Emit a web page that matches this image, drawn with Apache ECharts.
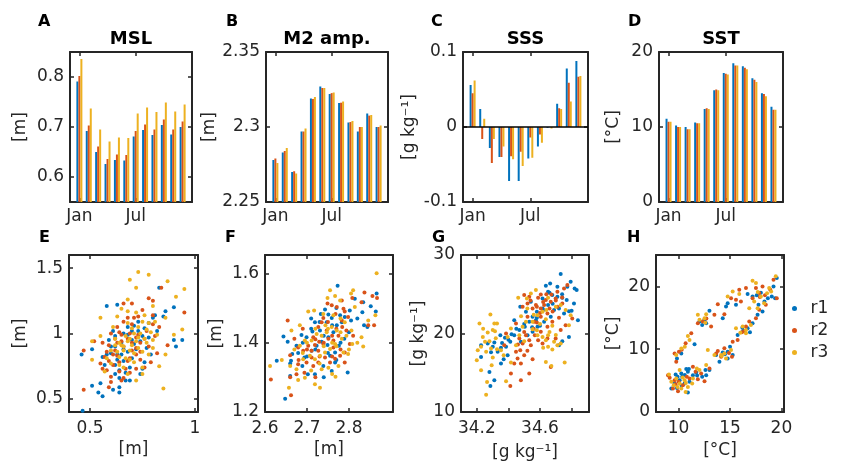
<!DOCTYPE html>
<html>
<head>
<meta charset="utf-8">
<script src="https://cdn.jsdelivr.net/npm/echarts@6/dist/echarts.min.js"></script>
<style>
  html, body { margin: 0; padding: 0; background: #fff; }
  #container { width: 842px; height: 468px; }
</style>
</head>
<body>
<div id="container"></div>
<script>
// monthly climatologies, three runs
var months = [1, 2, 3, 4, 5, 6, 7, 8, 9, 10, 11, 12];
var monthTicks = [1, 7];
var monthLabels = ["Jan", "Jul"];

var mslR1 = [0.791, 0.692, 0.650, 0.626, 0.634, 0.633, 0.681, 0.694, 0.684, 0.704, 0.685, 0.700];
var mslR2 = [0.802, 0.703, 0.661, 0.636, 0.645, 0.644, 0.692, 0.705, 0.695, 0.715, 0.695, 0.711];
var mslR3 = [0.836, 0.737, 0.695, 0.671, 0.679, 0.678, 0.727, 0.739, 0.730, 0.749, 0.731, 0.745];

var m2R1 = [2.278, 2.283, 2.270, 2.297, 2.319, 2.327, 2.322, 2.316, 2.303, 2.297, 2.309, 2.300];
var m2R2 = [2.279, 2.284, 2.2705, 2.297, 2.3187, 2.326, 2.3226, 2.3162, 2.3033, 2.300, 2.3076, 2.300];
var m2R3 = [2.276, 2.286, 2.269, 2.299, 2.320, 2.326, 2.323, 2.317, 2.304, 2.300, 2.308, 2.301];

var sssR1 = [0.056, 0.024, -0.028, -0.040, -0.072, -0.072, -0.042, -0.026, -0.001, 0.031, 0.078, 0.088];
var sssR2 = [0.045, -0.016, -0.048, -0.040, -0.039, -0.033, -0.014, -0.010, 0.000, 0.025, 0.059, 0.067];
var sssR3 = [0.062, 0.011, -0.016, -0.026, -0.043, -0.052, -0.041, -0.021, -0.002, 0.024, 0.034, 0.068];

var sstR1 = [11.1, 10.2, 10.0, 10.6, 12.4, 14.9, 17.2, 18.5, 18.1, 16.5, 14.5, 12.7];
var sstR2 = [10.7, 10.0, 9.7, 10.5, 12.5, 15.0, 17.1, 18.2, 17.9, 16.3, 14.4, 12.3];
var sstR3 = [10.7, 10.0, 9.7, 10.5, 12.4, 14.9, 17.0, 18.2, 17.7, 16.0, 14.1, 12.3];

// scatter panels [x, y]
var eR1 = [[0.46,0.84],[0.51,0.88],[0.465,0.41],[0.58,1.21],[0.63,1.22],[0.56,0.52],[0.51,0.60],[0.55,0.62],[0.61,0.57],[0.64,0.55],[0.64,0.59],[0.67,0.64],[0.69,0.64],[0.74,0.69],[0.75,0.73],[0.83,1.35],[0.90,1.20],[0.86,1.17],[0.90,0.95],[0.94,0.95],[0.91,0.90],[0.81,1.14],[0.78,1.08],[0.73,1.02],[0.68,0.99],[0.65,0.93],[0.62,0.98],[0.60,0.90],[0.58,0.84],[0.57,0.76],[0.62,0.76],[0.64,0.72],[0.66,0.79],[0.68,0.86],[0.71,0.92],[0.74,0.94],[0.77,0.89],[0.79,0.84],[0.76,0.78],[0.70,1.02],[0.73,1.09],[0.80,1.12],[0.85,1.13],[0.61,1.02],[0.76,1.04],[0.68,1.05],[0.60,0.85],[0.63,0.84],[0.65,0.84],[0.56,0.82],[0.62,0.69],[0.54,0.55],
  [0.66,0.88],[0.70,0.95],[0.72,0.88],[0.67,0.70],[0.63,0.80],[0.69,0.74],[0.75,0.98],[0.71,1.06],[0.66,1.00],[0.59,0.95],[0.64,0.66],[0.82,1.02],[0.78,0.97],[0.70,0.81],[0.62,0.90]];
var eR2 = [[0.47,0.87],[0.47,0.57],[0.52,0.94],[0.55,0.77],[0.56,0.73],[0.59,0.91],[0.60,0.63],[0.60,1.00],[0.63,1.05],[0.66,1.23],[0.70,1.23],[0.73,1.13],[0.78,1.27],[0.80,1.25],[0.84,1.35],[0.87,0.91],[0.95,1.16],[0.80,1.07],[0.76,0.96],[0.74,0.93],[0.72,0.89],[0.70,0.93],[0.68,0.96],[0.65,0.99],[0.63,0.93],[0.61,0.84],[0.59,0.79],[0.58,0.86],[0.62,0.87],[0.64,0.78],[0.67,0.73],[0.65,0.64],[0.60,0.67],[0.58,0.72],[0.69,0.81],[0.72,0.84],[0.74,0.86],[0.78,0.90],[0.81,0.98],[0.82,0.85],[0.79,0.78],[0.76,0.74],[0.72,0.73],[0.66,1.09],[0.70,1.07],[0.75,1.18],[0.68,1.12],[0.59,0.59],[0.65,0.94],[0.80,1.14],[0.69,1.00],[0.72,0.97],[0.64,0.71],[0.56,0.93],
  [0.66,0.90],[0.70,0.87],[0.73,0.99],[0.68,0.79],[0.63,0.83],[0.61,0.76],[0.77,1.02],[0.71,1.12],[0.64,1.01],[0.66,0.66],[0.57,0.82],[0.83,1.05],[0.74,0.80],[0.69,0.70],[0.62,0.96]];
var eR3 = [[0.55,1.12],[0.55,0.98],[0.51,0.94],[0.51,0.80],[0.69,1.41],[0.73,1.47],[0.78,1.45],[0.87,1.40],[0.95,1.34],[0.91,1.28],[0.72,1.35],[0.68,1.26],[0.78,1.08],[0.81,1.09],[0.86,1.12],[0.94,1.03],[0.90,0.99],[0.86,0.84],[0.85,0.58],[0.75,0.74],[0.75,0.69],[0.72,0.64],[0.68,0.69],[0.66,0.74],[0.64,0.82],[0.63,0.86],[0.65,0.91],[0.68,0.94],[0.69,0.96],[0.71,1.00],[0.73,1.05],[0.75,1.09],[0.76,1.14],[0.72,1.16],[0.68,1.17],[0.65,1.19],[0.63,1.13],[0.61,1.05],[0.62,0.96],[0.60,0.87],[0.58,0.81],[0.57,0.71],[0.64,0.76],[0.67,0.81],[0.71,0.85],[0.73,0.89],[0.77,0.93],[0.80,0.95],[0.82,0.99],[0.80,0.89],[0.78,0.84],[0.69,0.87],[0.70,0.91],[0.66,0.87],[0.80,1.21],[0.76,0.96],[0.83,0.75],
  [0.67,0.98],[0.70,1.04],[0.72,0.94],[0.66,0.90],[0.69,0.80],[0.74,1.00],[0.77,1.03],[0.71,0.78],[0.64,0.93],[0.68,1.08],[0.60,0.77],[0.73,0.97],[0.75,0.86],[0.62,0.91],[0.79,1.01]];

var fR1 = [[2.773,1.564],[2.866,1.542],[2.852,1.505],[2.864,1.490],[2.832,1.488],[2.836,1.450],[2.844,1.445],[2.834,1.517],[2.814,1.527],[2.802,1.493],[2.790,1.474],[2.783,1.459],[2.771,1.450],[2.759,1.471],[2.743,1.496],[2.733,1.483],[2.719,1.459],[2.710,1.440],[2.699,1.416],[2.687,1.422],[2.675,1.391],[2.665,1.367],[2.644,1.418],[2.654,1.403],[2.628,1.348],[2.662,1.348],[2.660,1.304],[2.648,1.238],[2.689,1.333],[2.702,1.309],[2.719,1.309],[2.739,1.333],[2.755,1.362],[2.767,1.372],[2.776,1.391],[2.789,1.411],[2.751,1.416],[2.735,1.403],[2.723,1.391],[2.711,1.377],[2.694,1.357],[2.679,1.370],[2.731,1.435],[2.747,1.459],[2.763,1.430],[2.779,1.479],[2.805,1.464],[2.797,1.314],[2.759,1.318],[2.713,1.432],[2.749,1.393],[2.767,1.343],[2.751,1.481],
  [2.74,1.42],[2.76,1.45],[2.72,1.38],[2.78,1.40],[2.70,1.36],[2.75,1.37],[2.73,1.46],[2.77,1.50],[2.69,1.40],[2.80,1.43],[2.74,1.30],[2.71,1.47],[2.82,1.47],[2.66,1.34],[2.77,1.35]];
var fR2 = [[2.654,1.464],[2.614,1.294],[2.662,1.248],[2.711,1.377],[2.749,1.513],[2.783,1.522],[2.808,1.529],[2.837,1.545],[2.856,1.535],[2.867,1.529],[2.830,1.517],[2.860,1.450],[2.846,1.450],[2.798,1.474],[2.787,1.498],[2.771,1.503],[2.759,1.508],[2.739,1.471],[2.727,1.445],[2.715,1.416],[2.703,1.391],[2.691,1.377],[2.679,1.386],[2.670,1.411],[2.660,1.364],[2.679,1.338],[2.675,1.309],[2.699,1.343],[2.711,1.357],[2.727,1.377],[2.739,1.396],[2.751,1.411],[2.763,1.406],[2.775,1.420],[2.784,1.445],[2.794,1.435],[2.802,1.396],[2.790,1.372],[2.779,1.362],[2.767,1.354],[2.755,1.343],[2.743,1.357],[2.727,1.343],[2.715,1.333],[2.729,1.403],[2.747,1.435],[2.768,1.483],[2.783,1.464],[2.735,1.459],[2.790,1.343],[2.694,1.313],[2.763,1.386],[2.719,1.393],
  [2.74,1.40],[2.76,1.42],[2.72,1.41],[2.78,1.38],[2.70,1.38],[2.75,1.46],[2.73,1.36],[2.77,1.44],[2.69,1.44],[2.81,1.42],[2.72,1.30],[2.79,1.49],[2.68,1.35],[2.76,1.36],[2.66,1.30]];
var fR3 = [[2.866,1.600],[2.612,1.333],[2.640,1.350],[2.657,1.270],[2.679,1.292],[2.695,1.299],[2.719,1.280],[2.731,1.270],[2.768,1.302],[2.808,1.396],[2.834,1.389],[2.810,1.551],[2.805,1.542],[2.846,1.464],[2.863,1.479],[2.749,1.529],[2.767,1.535],[2.779,1.522],[2.755,1.551],[2.703,1.490],[2.683,1.450],[2.663,1.435],[2.683,1.391],[2.695,1.406],[2.711,1.406],[2.723,1.425],[2.735,1.420],[2.747,1.430],[2.759,1.445],[2.771,1.435],[2.783,1.411],[2.794,1.420],[2.806,1.435],[2.767,1.396],[2.755,1.382],[2.743,1.372],[2.731,1.362],[2.719,1.352],[2.707,1.362],[2.691,1.352],[2.675,1.323],[2.660,1.333],[2.735,1.323],[2.751,1.328],[2.775,1.333],[2.787,1.372],[2.798,1.367],[2.739,1.483],[2.717,1.493],[2.744,1.450],[2.763,1.479],[2.790,1.459],[2.814,1.503],[2.830,1.416],
  [2.74,1.39],[2.76,1.40],[2.72,1.44],[2.78,1.43],[2.70,1.40],[2.75,1.44],[2.73,1.34],[2.77,1.39],[2.69,1.37],[2.80,1.38],[2.71,1.32],[2.78,1.47],[2.67,1.38],[2.76,1.31],[2.82,1.40]];

var gR1 = [[34.731,27.57],[34.794,26.60],[34.819,25.74],[34.832,25.53],[34.773,25.96],[34.710,25.96],[34.664,26.38],[34.637,26.09],[34.651,25.32],[34.678,24.89],[34.710,24.68],[34.741,24.55],[34.769,24.26],[34.815,23.83],[34.840,21.70],[34.783,22.85],[34.752,22.55],[34.783,19.57],[34.741,19.02],[34.720,18.51],[34.689,22.98],[34.651,23.62],[34.616,23.19],[34.580,22.77],[34.553,22.13],[34.532,21.49],[34.504,20.85],[34.469,20.43],[34.437,21.70],[34.437,19.79],[34.412,18.94],[34.385,18.30],[34.353,18.17],[34.332,17.66],[34.311,18.85],[34.301,18.30],[34.269,18.72],[34.349,19.79],[34.378,19.45],[34.395,17.23],[34.370,16.72],[34.353,16.17],[34.311,14.04],[34.280,15.11],[34.227,17.02],[34.286,13.32],[34.479,18.94],[34.521,19.79],[34.553,20.21],[34.584,20.85],[34.626,21.49],[34.668,22.13],[34.475,23.40],[34.542,24.04],[34.616,24.47],[34.511,22.77],[34.574,21.70],[34.227,18.51],
  [34.62,23.0],[34.68,23.8],[34.72,23.2],[34.58,22.0],[34.50,21.2],[34.45,20.6],[34.40,19.2],[34.36,18.8],[34.66,25.2],[34.74,25.0],[34.55,20.8],[34.29,17.6],[34.42,19.9],[34.60,21.0],[34.80,22.9]];
var gR2 = [[34.500,24.89],[34.532,24.68],[34.588,24.55],[34.637,24.26],[34.672,24.98],[34.710,25.32],[34.752,25.74],[34.773,26.17],[34.741,23.83],[34.710,23.40],[34.668,24.04],[34.626,23.62],[34.605,23.19],[34.574,23.62],[34.553,23.19],[34.521,23.83],[34.490,23.40],[34.521,22.13],[34.563,21.49],[34.605,22.13],[34.647,22.55],[34.678,21.49],[34.647,20.85],[34.605,20.21],[34.567,19.79],[34.532,19.15],[34.511,19.79],[34.490,18.72],[34.475,17.87],[34.448,17.66],[34.458,16.81],[34.437,16.17],[34.479,16.17],[34.500,17.23],[34.542,18.51],[34.553,16.72],[34.532,14.89],[34.479,14.04],[34.416,14.89],[34.412,13.32],[34.668,15.74],[34.699,19.36],[34.731,20.43],[34.762,21.06],[34.804,21.91],[34.647,19.36],[34.616,18.72],[34.588,19.15],[34.469,19.36],[34.374,18.51],[34.605,24.98],[34.699,24.47],[34.448,21.28],[34.385,20.00],
  [34.62,24.0],[34.66,23.2],[34.70,24.2],[34.58,23.4],[34.54,24.2],[34.60,22.6],[34.68,22.8],[34.72,22.0],[34.56,20.6],[34.50,20.2],[34.46,18.6],[34.52,17.8],[34.64,25.0],[34.74,24.6],[34.58,21.4]];
var gR3 = [[34.217,21.28],[34.286,22.43],[34.311,21.28],[34.328,21.28],[34.301,20.43],[34.315,20.30],[34.269,20.13],[34.238,19.57],[34.252,18.94],[34.227,18.30],[34.206,17.87],[34.259,17.66],[34.290,18.09],[34.328,18.00],[34.353,17.87],[34.370,17.23],[34.301,16.94],[34.294,15.96],[34.227,15.32],[34.265,13.83],[34.259,12.21],[34.385,13.91],[34.416,16.30],[34.448,18.51],[34.469,19.79],[34.553,20.55],[34.584,19.79],[34.616,19.57],[34.651,19.79],[34.689,18.94],[34.710,18.51],[34.678,17.96],[34.651,18.30],[34.637,16.38],[34.672,15.87],[34.756,16.30],[34.783,21.06],[34.794,22.34],[34.762,22.98],[34.731,23.62],[34.651,24.55],[34.574,25.53],[34.542,25.11],[34.517,24.47],[34.462,24.55],[34.616,22.77],[34.584,22.34],[34.553,21.49],[34.637,21.83],[34.678,20.98],[34.511,21.49],[34.490,20.85],[34.416,20.64],[34.395,19.57],[34.637,19.15],[34.731,18.72],
  [34.56,22.4],[34.60,21.2],[34.64,23.0],[34.70,23.4],[34.52,23.2],[34.48,22.2],[34.58,20.4],[34.66,20.2],[34.28,19.0],[34.24,20.6],[34.32,19.4],[34.70,19.8],[34.62,18.2],[34.50,19.0],[34.20,16.6]];

var hR1 = [[10.90,3.09],[10.58,4.53],[9.84,3.84],[9.61,4.53],[10.10,5.07],[9.71,5.97],[10.35,5.60],[10.74,6.83],[11.00,6.83],[11.71,6.29],[12.29,5.60],[12.61,6.67],[13.00,6.67],[12.68,5.87],[11.55,10.80],[10.26,9.33],[9.84,8.53],[12.29,13.87],[12.03,14.40],[12.68,14.13],[13.00,16.11],[14.29,14.93],[14.61,16.80],[14.77,17.33],[15.58,17.07],[13.65,9.07],[14.29,9.49],[14.77,9.60],[15.26,9.07],[14.77,8.53],[13.97,8.00],[15.00,10.40],[15.74,12.27],[16.29,12.91],[16.71,13.33],[17.19,14.13],[16.94,12.69],[17.77,17.07],[18.35,17.60],[18.68,18.13],[19.06,18.40],[19.39,18.13],[16.71,18.77],[17.19,18.40],[17.68,15.47],[18.16,16.00],[19.55,21.33],[19.23,20.00],[9.29,3.73],[10.26,6.13],[11.39,5.87],[11.06,4.80],
  [10.3,4.2],[9.9,5.6],[10.6,5.9],[12.5,14.6],[17.6,18.6],[18.0,19.0],[16.2,13.4],[14.5,9.2],[10.9,6.4],[11.8,5.8]];
var hR2 = [[9.45,3.73],[9.94,3.31],[9.13,5.44],[9.61,5.07],[10.42,4.27],[11.06,5.33],[11.87,5.23],[12.52,4.91],[12.19,6.13],[9.77,8.00],[9.61,9.33],[10.03,9.60],[10.68,10.93],[11.23,12.53],[11.87,14.13],[12.35,14.40],[13.16,13.60],[13.48,15.47],[13.81,17.17],[14.45,15.57],[15.10,18.13],[15.58,17.87],[16.06,17.60],[15.90,19.47],[16.55,19.73],[17.52,19.73],[17.84,18.93],[18.16,20.00],[18.48,17.07],[17.84,16.27],[17.52,14.93],[16.87,14.40],[16.55,13.60],[16.16,12.69],[15.74,11.47],[15.26,11.20],[14.45,10.16],[14.13,8.80],[13.65,9.33],[13.00,6.93],[11.39,7.20],[8.97,5.87],[19.23,21.07],[19.55,18.13],[17.19,18.13],[13.81,9.71],[11.65,6.40],[15.19,8.80],
  [10.0,4.8],[9.7,4.4],[10.8,5.6],[12.7,14.9],[17.9,18.3],[18.4,18.6],[16.4,12.9],[14.9,9.4],[10.3,9.9],[18.9,19.5]];
var hR3 = [[9.06,5.97],[9.29,4.80],[10.10,4.53],[10.58,5.07],[9.77,5.33],[10.90,4.00],[11.39,5.33],[12.03,6.67],[12.68,7.47],[9.77,9.07],[10.26,10.13],[11.06,11.47],[10.90,12.11],[12.03,14.67],[12.52,14.93],[11.87,15.47],[12.68,15.57],[14.13,9.07],[14.45,9.33],[15.10,9.87],[15.58,13.33],[16.23,13.60],[16.55,13.07],[17.03,13.87],[15.26,19.20],[14.77,18.40],[15.90,18.77],[17.19,20.91],[17.52,20.53],[17.35,17.60],[18.32,17.33],[18.81,19.73],[19.45,21.60],[18.00,18.40],[12.84,9.87],[13.48,9.07],[14.61,8.53],[11.77,6.93],[10.68,3.20],[9.52,4.27],[10.26,3.73],[11.32,4.53],[10.10,6.67],[16.87,16.53],[17.68,16.53],[16.55,12.53],
  [10.4,5.5],[9.9,4.0],[10.7,4.6],[12.6,14.2],[17.7,19.1],[18.6,18.9],[16.0,12.6],[14.2,8.9],[10.6,10.4],[19.0,19.2]];

var runNames = ["r1", "r2", "r3"];
var runColors = ["#0072BD", "#D95319", "#EDB120"];

var dom = document.getElementById("container");
var myChart = echarts.init(dom);

var FONT = "DejaVu Sans";
var INK = "#262626";

var grids = [
  { left: 70, top: 52, width: 122, height: 150 },
  { left: 266, top: 52, width: 122, height: 150 },
  { left: 463, top: 52, width: 125, height: 150 },
  { left: 659, top: 52, width: 124, height: 150 },
  { left: 69, top: 255, width: 129, height: 157 },
  { left: 265, top: 255, width: 128, height: 157 },
  { left: 461, top: 255, width: 128, height: 157 },
  { left: 656, top: 255, width: 128, height: 157 }
];

var xAxes = [];
var yAxes = [];

function mkAxis(dim, gi, pos, ax, main) {
  var ticks = ax.ticks;
  var a = {
    type: "value",
    gridIndex: gi,
    position: pos,
    min: ax.min,
    max: ax.max,
    axisLine: { show: true, onZero: false, lineStyle: { color: INK, width: 2 } },
    axisTick: { show: true, inside: true, length: 4, customValues: ticks, lineStyle: { color: INK, width: 1.5 } },
    splitLine: { show: false },
    axisLabel: { show: false }
  };
  if (main) {
    a.axisLabel = {
      show: true,
      customValues: ax.labels || ticks,
      margin: ax.margin,
      color: INK,
      fontFamily: FONT,
      fontSize: 17,
      formatter: ax.fmt || function (v) { return String(v); }
    };
    if (ax.name) {
      a.name = ax.name;
      a.nameLocation = "middle";
      a.nameGap = ax.gap;
      a.nameRotate = dim === "y" ? 90 : 0;
      a.nameTextStyle = { color: INK, fontFamily: FONT, fontSize: 17 };
    }
  }
  return a;
}

function addPanel(gi, xs, ys) {
  xAxes.push(mkAxis("x", gi, "bottom", xs, true));
  xAxes.push(mkAxis("x", gi, "top", xs, false));
  yAxes.push(mkAxis("y", gi, "left", ys, true));
  yAxes.push(mkAxis("y", gi, "right", ys, false));
}

var monthAxis = {
  min: 0, max: 13, ticks: monthTicks, margin: 6,
  fmt: function (v) { return monthLabels[monthTicks.indexOf(v)]; }
};

addPanel(0, monthAxis, { min: 0.55, max: 0.85, ticks: [0.6, 0.7, 0.8], margin: 6, name: "[m]", gap: 41 });
addPanel(1, monthAxis, { min: 2.25, max: 2.35, ticks: [2.25, 2.3, 2.35], margin: 6, name: "[m]", gap: 48 });
addPanel(2, monthAxis, { min: -0.1, max: 0.1, ticks: [-0.1, 0, 0.1], margin: 6, name: "[g kg\u207B\u00B9]", gap: 45 });
addPanel(3, monthAxis, { min: 0, max: 20, ticks: [0, 10, 20], margin: 6, name: "[\u00B0C]", gap: 37 });

addPanel(4, { min: 0.4, max: 1.015, ticks: [0.5, 1], margin: 8, name: "[m]", gap: 29 },
            { min: 0.4, max: 1.6, ticks: [0.5, 1, 1.5], margin: 6, name: "[m]", gap: 40 });
addPanel(5, { min: 2.6, max: 2.905, ticks: [2.6, 2.7, 2.8], margin: 8, name: "[m]", gap: 29 },
            { min: 1.2, max: 1.653, ticks: [1.2, 1.4, 1.6], margin: 6, name: "[m]", gap: 40 });
addPanel(6, { min: 34.1, max: 34.91, ticks: [34.2, 34.4, 34.6, 34.8], labels: [34.2, 34.6], margin: 8, name: "[g kg\u207B\u00B9]", gap: 32 },
            { min: 10, max: 30, ticks: [10, 20, 30], margin: 6, name: "[g kg\u207B\u00B9]", gap: 34 });
addPanel(7, { min: 7.8, max: 20.25, ticks: [10, 15, 20], margin: 8, name: "[\u00B0C]", gap: 30 },
            { min: 0, max: 25, ticks: [0, 10, 20], margin: 6, name: "[\u00B0C]", gap: 34 });

var series = [];

function barSeries(gi, runs) {
  runs.forEach(function (vals, k) {
    var s = {
      type: "bar",
      name: runNames[k],
      xAxisIndex: gi * 2,
      yAxisIndex: gi * 2,
      barWidth: 2,
      barGap: "0%",
      itemStyle: { color: runColors[k] },
      data: months.map(function (m, i) { return [m, vals[i]]; })
    };
    if (gi === 2 && k === 0) {
      s.markLine = {
        silent: true,
        symbol: ["none", "none"],
        label: { show: false },
        lineStyle: { color: "#000", width: 1.5, type: "solid" },
        data: [{ yAxis: 0 }]
      };
    }
    series.push(s);
  });
}

function dotSeries(gi, runs) {
  runs.forEach(function (pts, k) {
    series.push({
      type: "scatter",
      name: runNames[k],
      xAxisIndex: gi * 2,
      yAxisIndex: gi * 2,
      symbol: "circle",
      symbolSize: 4,
      itemStyle: { color: runColors[k], opacity: 1 },
      data: pts
    });
  });
}

barSeries(0, [mslR1, mslR2, mslR3]);
barSeries(1, [m2R1, m2R2, m2R3]);
barSeries(2, [sssR1, sssR2, sssR3]);
barSeries(3, [sstR1, sstR2, sstR3]);
dotSeries(4, [eR1, eR2, eR3]);
dotSeries(5, [fR1, fR2, fR3]);
dotSeries(6, [gR1, gR2, gR3]);
dotSeries(7, [hR1, hR2, hR3]);

var panelTitles = ["MSL", "M2 amp.", "SSS", "SST"];
var panelLetters = ["A", "B", "C", "D", "E", "F", "G", "H"];
var letterPos = [[38, 14], [226, 14], [431, 14], [628, 14], [39, 230], [225, 230], [432, 230], [627, 230]];

var titles = [];
panelLetters.forEach(function (t, i) {
  titles.push({
    text: t, left: letterPos[i][0], top: letterPos[i][1], padding: 0,
    textStyle: { fontFamily: FONT, fontSize: 16, fontWeight: "bold", color: "#000" }
  });
});
panelTitles.forEach(function (t, i) {
  titles.push({
    text: t, left: grids[i].left + grids[i].width / 2, top: 30, padding: 0, textAlign: "center",
    textStyle: { fontFamily: FONT, fontSize: 18, fontWeight: "bold", color: "#000" }
  });
});

var option = {
  backgroundColor: "#fff",
  animation: false,
  title: titles,
  legend: {
    data: runNames,
    orient: "vertical",
    left: 792,
    top: 300,
    icon: "circle",
    itemWidth: 22,
    itemHeight: 5,
    itemGap: 5,
    padding: 0,
    textStyle: { fontFamily: FONT, fontSize: 17, color: INK, lineHeight: 17 }
  },
  grid: grids,
  xAxis: xAxes,
  yAxis: yAxes,
  series: series
};

myChart.setOption(option, true);
</script>
</body>
</html>
